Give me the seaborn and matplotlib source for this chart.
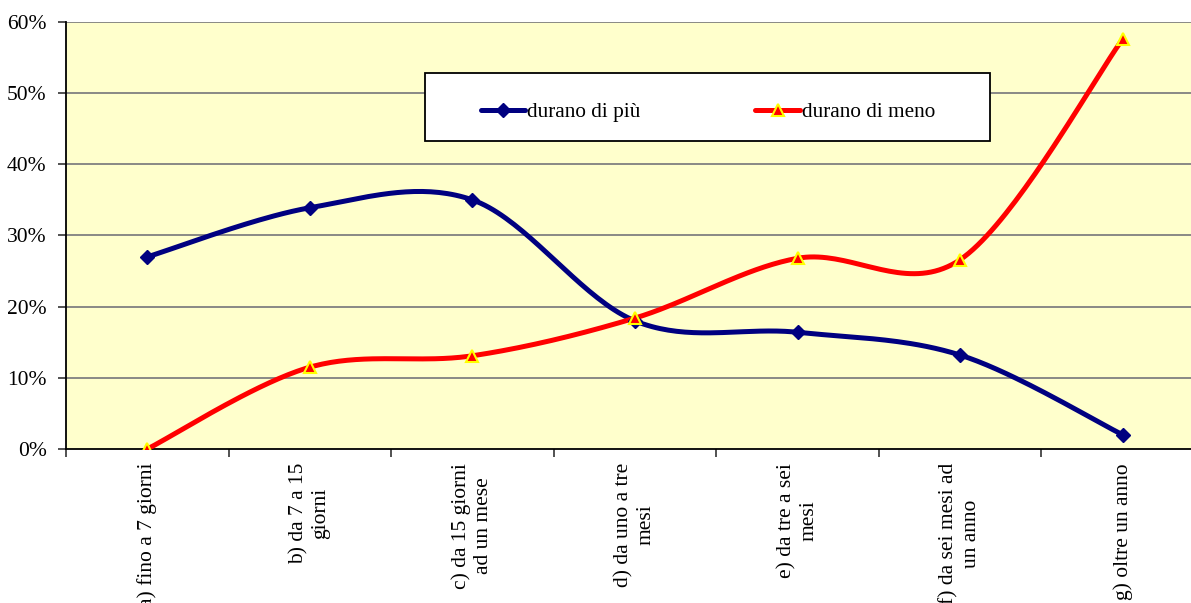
# Durata: confronto "durano di più" / "durano di meno"

import numpy as np
import pandas as pd
import matplotlib.pyplot as plt
import seaborn as sns
from matplotlib.lines import Line2D
from matplotlib.patches import Rectangle
from matplotlib.ticker import PercentFormatter

categories = [
    "a) fino a 7 giorni",
    "b) da 7 a 15\ngiorni",
    "c) da 15 giorni\nad un mese",
    "d) da uno a tre\nmesi",
    "e) da tre a sei\nmesi",
    "f) da sei mesi ad\nun anno",
    "g) oltre un anno",
]
durano_di_piu = [0.27, 0.339, 0.35, 0.18, 0.164, 0.132, 0.02]
durano_di_meno = [0.0, 0.115, 0.131, 0.184, 0.268, 0.266, 0.576]
series_names = ["durano di più", "durano di meno"]
y_ticks = [0.0, 0.1, 0.2, 0.3, 0.4, 0.5, 0.6]

NAVY = "#000080"
RED = "#FF0000"
YELLOW = "#FFFF00"


def smooth(values, steps=40):
    # Excel-like smoothed line: bezier segments, catmull-rom control points
    y = np.asarray(values, dtype=float)
    pts = np.column_stack([np.arange(len(y), dtype=float), y])
    padded = np.vstack([pts[0], pts, pts[-1]])
    t = np.linspace(0, 1, steps)[:, None]
    out = []
    for i in range(len(pts) - 1):
        p0, p1, p2, p3 = padded[i], padded[i + 1], padded[i + 2], padded[i + 3]
        c1 = p1 + (p2 - p0) / 6
        c2 = p2 - (p3 - p1) / 6
        seg = (1 - t) ** 3 * p1 + 3 * (1 - t) ** 2 * t * c1 + 3 * (1 - t) * t ** 2 * c2 + t ** 3 * p2
        out.append(seg if i == 0 else seg[1:])
    return np.vstack(out)


frames = []
for name, vals in zip(series_names, [durano_di_piu, durano_di_meno]):
    curve = smooth(vals)
    frames.append(pd.DataFrame({"x": curve[:, 0], "y": curve[:, 1], "series": name}))
df = pd.concat(frames, ignore_index=True)

sns.set_style("ticks")
plt.rcParams["font.family"] = ["Liberation Serif", "DejaVu Serif"]
plt.rcParams["text.color"] = "black"
plt.rcParams["xtick.color"] = "black"
plt.rcParams["ytick.color"] = "black"

fig = plt.figure(figsize=(11.91, 6.03), dpi=100)
ax = fig.add_axes([66 / 1191, 1 - 449 / 603, 1138 / 1191, 427 / 603])
ax.set_facecolor("#FFFFCC")

# grid
for v in y_ticks[1:]:
    ax.axhline(v, color="#808080", lw=1.3, zorder=1)

sns.lineplot(data=df, x="x", y="y", hue="series", palette=[NAVY, RED], sort=False,
             estimator=None, linewidth=3.6, legend=False, ax=ax, zorder=3)
xs = np.arange(len(categories))
ax.plot(xs, durano_di_piu, linestyle="none", marker="D", ms=7.5, color=NAVY, mec=NAVY, zorder=4)
ax.plot(xs, durano_di_meno, linestyle="none", marker="^", ms=8, mfc=RED, mec=YELLOW, mew=1.5, zorder=5)

ax.set_xlim(-0.5, len(categories) - 0.5)
ax.set_ylim(0, 0.6)
ax.set_yticks(y_ticks)
ax.yaxis.set_major_formatter(PercentFormatter(1.0, decimals=0))
ax.tick_params(axis="y", length=6, width=1.2, color="#333333", pad=8, labelsize=15.5,
               labelcolor="black")

ax.set_xticks(np.arange(-0.5, len(categories), 1.0))
ax.set_xticklabels([])
ax.set_xticks(xs, minor=True)
ax.set_xticklabels(categories, minor=True, rotation=90, va="top", ha="center",
                   multialignment="center", fontsize=15.5, color="black")
ax.tick_params(axis="x", which="major", length=6, width=1.2, color="#333333")
ax.tick_params(axis="x", which="minor", length=0, pad=10)
ax.set_xlabel("")
ax.set_ylabel("")

for side in ["top", "right"]:
    ax.spines[side].set_visible(False)
for side in ["left", "bottom"]:
    ax.spines[side].set_color("black")
    ax.spines[side].set_linewidth(1.3)

# legend box
ax.add_patch(Rectangle((0.3155, 0.7213), 0.4965, 0.159, transform=ax.transAxes,
                       facecolor="white", edgecolor="black", lw=1.3, zorder=6))
handles = [
    Line2D([], [], color=NAVY, lw=3.6, marker="D", ms=7.5),
    Line2D([], [], color=RED, lw=3.6, marker="^", ms=8, mfc=RED, mec=YELLOW, mew=1.5),
]
leg = ax.legend(handles, series_names, loc="center", bbox_to_anchor=(0.5641, 0.789),
                ncol=2, frameon=False, fontsize=15.3, handlelength=2.1, handletextpad=0.1,
                columnspacing=5.4)
leg.set_zorder(7)

fig.savefig("out.png", dpi=100)
